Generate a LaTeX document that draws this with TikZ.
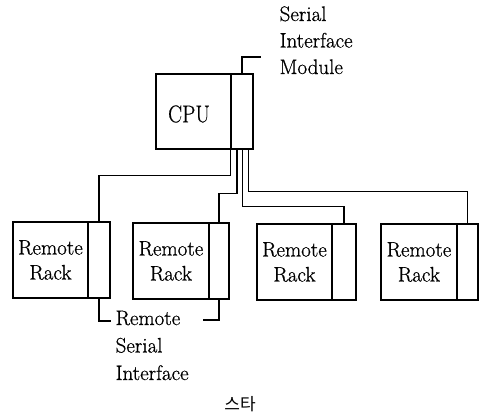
\documentclass[tikz,border=0pt]{standalone}
\usepackage{fontspec}
\newfontfamily\krfont{Noto Sans CJK KR}
\newfontfamily\txtfont{Latin Modern Roman}[FakeBold=0.7]
\begin{document}
\begin{tikzpicture}[x=1pt,y=-1pt,
  line width=1.3pt,
  mainbox/.style={draw, rectangle, inner sep=0pt, align=center,
    font=\txtfont\fontsize{21}{25}\selectfont},
  modbox/.style={draw, rectangle, inner sep=0pt},
  lbl/.style={inner sep=0pt, anchor=base west, font=\txtfont\fontsize{21}{25}\selectfont},
  wire/.style={draw, line width=1.3pt}
]
\useasboundingbox (0,0) rectangle (481,419);

% CPU and serial interface module
\node[mainbox, minimum width=75pt, minimum height=75pt] (cpu) at (193.5,111.5) {};
\node[font=\txtfont\fontsize{21}{25}\selectfont, inner sep=0pt, yscale=1.15, transform shape] (cputxt) at (189,114) {CPU};
\node[modbox, minimum width=22pt, minimum height=75pt] (cpum) at (242,111.5) {};

% Remote racks
\node[mainbox, minimum width=75pt, minimum height=76pt] (r1) at (50.5,260) {Remote\\Rack};
\node[modbox, minimum width=22pt, minimum height=76pt] (r1m) at (99,260) {};
\node[mainbox, minimum width=76pt, minimum height=76pt] (r2) at (171,261) {Remote\\Rack};
\node[modbox, minimum width=20pt, minimum height=76pt] (r2m) at (219,261) {};
\node[mainbox, minimum width=75pt, minimum height=76pt] (r3) at (294.5,262) {Remote\\Rack};
\node[modbox, minimum width=24pt, minimum height=76pt] (r3m) at (344,262) {};
\node[mainbox, minimum width=76pt, minimum height=76pt] (r4) at (419,262) {Remote\\Rack};
\node[modbox, minimum width=21pt, minimum height=76pt] (r4m) at (467.5,262) {};

% wires from CPU module to remote racks
\draw[wire] (cpum.south west) -- ++(0,26) -| (r1m.north);
\draw[wire] ([xshift=6.5pt]cpum.south west) -- ++(0,44) -| (r2m.north);
\draw[wire] ([xshift=12pt]cpum.south west) -- ++(0,57) -| (r3m.north);
\draw[wire] ([xshift=18pt]cpum.south west) -- ++(0,42) -| (r4m.north);

% Serial Interface Module label
\coordinate (simend) at (261,57);
\draw[wire] (cpum.north) |- (simend);
\node[lbl] (sim1) at (279,21) {Serial};
\node[lbl] (sim2) at (279,47.5) {Interface};
\node[lbl] (sim3) at (279,74) {Module};

% Remote Serial Interface label
\coordinate (rsiL) at (111,321);
\coordinate (rsiR) at (203,320);
\draw[wire] (r1m.south) |- (rsiL);
\draw[wire] (r2m.south) |- (rsiR);
\node[lbl] (rsi1) at (115,325) {Remote};
\node[lbl] (rsi2) at (115,352.5) {Serial};
\node[lbl] (rsi3) at (115,380) {Interface};

% caption
\node[font=\krfont\fontsize{17}{20}\selectfont, inner sep=0pt] (cap) at (240,404) {스타};
\end{tikzpicture}
\end{document}
